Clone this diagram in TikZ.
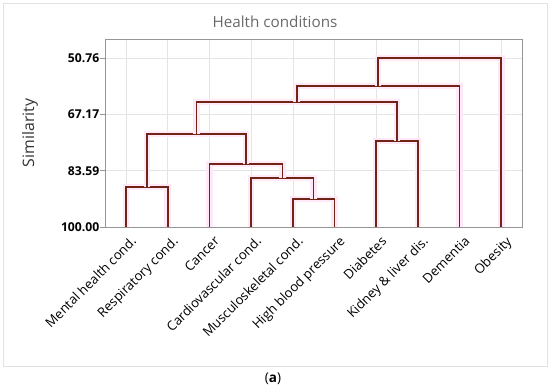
\documentclass[tikz,border=0pt]{standalone}
\usepackage{fontspec}
\setmainfont{Open Sans}
\definecolor{LinkRed}{RGB}{112,36,20}
\definecolor{GlowPink}{RGB}{255,232,248}
\definecolor{GridGray}{RGB}{228,228,228}
\definecolor{AxisGray}{RGB}{150,150,150}
\definecolor{FrameGray}{RGB}{226,226,226}
\definecolor{TitleGray}{RGB}{105,105,105}
\usepackage{tikz}
\usetikzlibrary{positioning,calc}
\tikzset{
  link/.style={draw=LinkRed,line width=1.4pt,line join=miter,preaction={draw=GlowPink,line width=5.5pt}},
  grid line/.style={draw=GridGray,line width=0.5pt},
  ticklab/.style={anchor=east,font=\fontsize{10.4}{12}\selectfont\bfseries,inner sep=0pt},
  leaflab/.style={anchor=north east,rotate=45,font=\fontsize{11.2}{12}\selectfont,inner sep=0pt},
}

\begin{document}
\begin{tikzpicture}
  \useasboundingbox (0,0) rectangle (16.5,11.76);
  \draw[FrameGray,line width=0.6pt] (0.09,0.78) rectangle (16.41,11.67);
  \node[font=\fontsize{13}{15}\selectfont,text=TitleGray] (title) at (8.25,11.1) {Health conditions};
  \node[font=\fontsize{13.5}{15}\selectfont,text=black!80,rotate=90] (ylab) at (0.9,7.77) {Similarity};
  \node[font=\fontsize{11.5}{13}\selectfont\rmfamily] (cap) at (8.19,0.39) {(\textbf{a})};
  \begin{scope}[xshift=2.529cm,yshift=15.24cm,x=1.251cm,y=-0.1029cm]
    % grid and axes
    \foreach \i in {1,...,10} \draw[grid line] (\i,45.2) -- (\i,100);
    \foreach \v in {50.76,67.17,83.59} \draw[grid line] (0.5,\v) -- (10.5,\v);
    \draw[AxisGray,line width=0.6pt] (0.5,45.2) rectangle (10.5,100);
    \foreach \v in {50.76,67.17,83.59,100.00} {
      \draw[AxisGray,line width=0.6pt] (0.5,\v) -- ++(-0.15cm,0);
      \node[ticklab] at ($(0.5,\v)+(-0.17cm,0)$) {\v};
    }
    % leaf labels
    \foreach \i/\name in {1/Mental health cond.,2/Respiratory cond.,3/Cancer,4/Cardiovascular cond.,
        5/Musculoskeletal cond.,6/High blood pressure,7/Diabetes,8/Kidney \& liver dis.,9/Dementia,10/Obesity}
      \node[leaflab] (leaf\i) at ($(\i,100)+(0.12cm,-0.24cm)$) {\name};
    % dendrogram links
    \draw[link] (1,100) -- (1,88.3) -- (2,88.3) -- (2,100);
    \draw[link] (5,100) -- (5,91.8) -- (6,91.8) -- (6,100);
    \draw[link] (4,100) -- (4,85.7) -- (5.5,85.7) -- (5.5,91.8);
    \draw[link] (3,100) -- (3,81.6) -- (4.75,81.6) -- (4.75,85.7);
    \draw[link] (1.5,88.3) -- (1.5,72.9) -- (3.875,72.9) -- (3.875,81.6);
    \draw[link] (7,100) -- (7,74.9) -- (8,74.9) -- (8,100);
    \draw[link] (2.6875,72.9) -- (2.6875,63.6) -- (7.5,63.6) -- (7.5,74.9);
    \draw[link] (5.09375,63.6) -- (5.09375,58.9) -- (9,58.9) -- (9,100);
    \draw[link] (7.046875,58.9) -- (7.046875,50.76) -- (10,50.76) -- (10,100);
  \end{scope}
\end{tikzpicture}
\end{document}
